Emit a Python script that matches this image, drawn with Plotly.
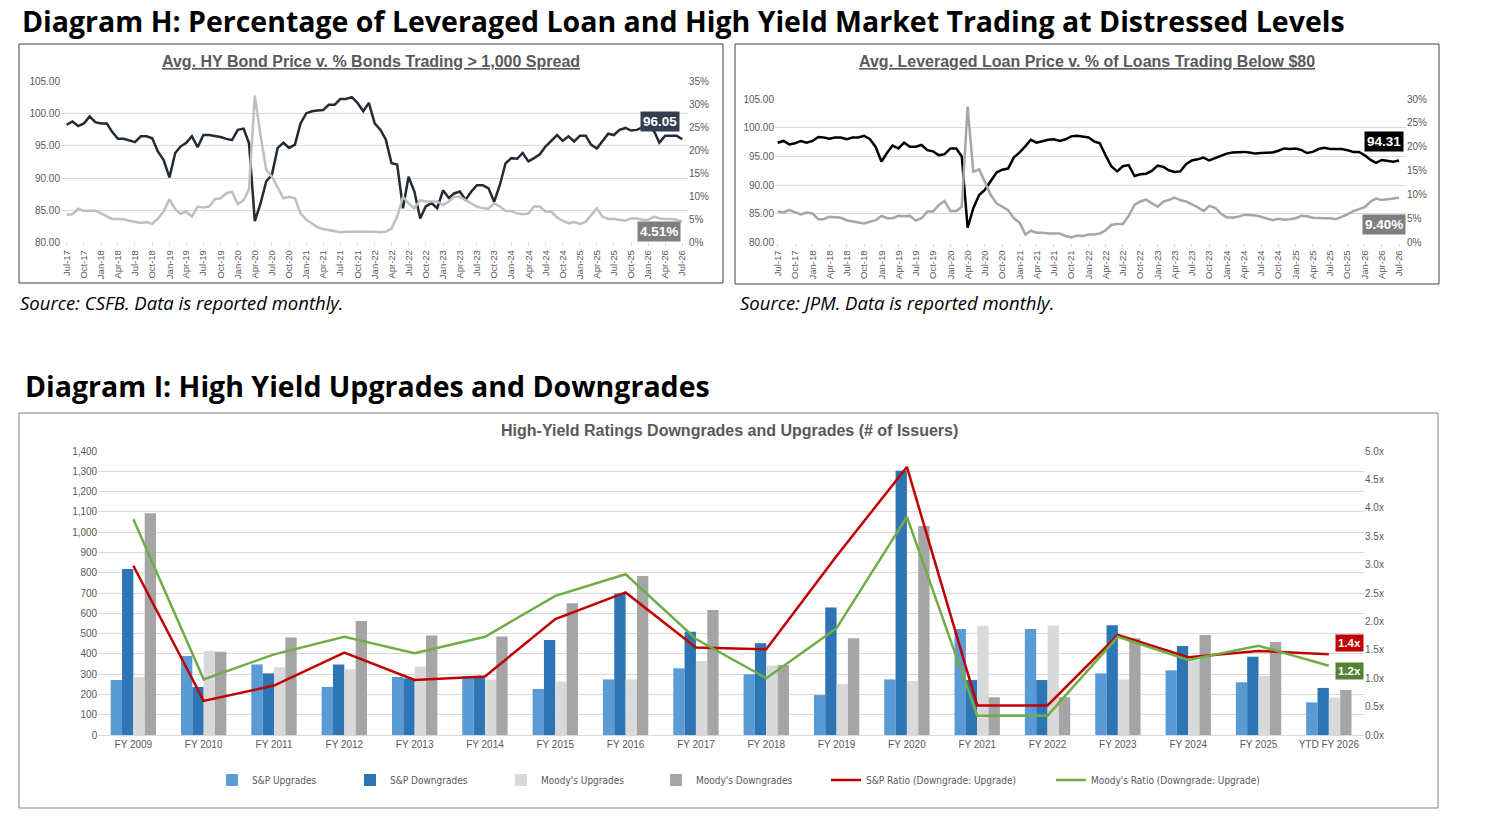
import pandas as pd
import plotly.graph_objects as go

W, H = 1489, 817


def fx(p):
    return p / W


def fy(p):
    return 1 - p / H


# ---------------- Data: top-left (HY bonds) ----------------
months = pd.date_range("2017-07-01", "2026-07-01", freq="MS")

hy_price = [
    98.3, 98.8, 98.1, 98.5, 99.6, 98.7, 98.5, 98.5, 97.2, 96.1, 96.1, 95.8, 95.6, 96.5, 96.5, 96.2,
    94.1, 92.8, 90.1, 93.9, 94.9, 95.5, 96.5, 94.8, 96.7, 96.7, 96.6, 96.4, 96.1, 95.9, 97.5, 97.7,
    95.4, 83.3, 86.0, 89.5, 90.5, 94.7, 95.5, 94.7, 95.2, 98.5, 100.1, 100.4, 100.5, 100.6, 101.4, 101.4,
    102.3, 102.3, 102.6, 101.7, 100.4, 101.7, 98.5, 97.5, 96.0, 92.3, 92.1, 85.3, 90.2, 87.9, 83.7, 85.6,
    86.1, 85.3, 88.1, 86.9, 87.6, 87.9, 86.6, 87.9, 88.9, 88.9, 88.4, 86.3, 89.0, 92.3, 93.1, 93.0,
    93.9, 92.6, 93.1, 93.7, 94.9, 95.8, 96.7, 95.8, 96.5, 95.7, 96.6, 96.6, 95.2, 94.6, 95.7, 96.9,
    96.7, 97.5, 97.8, 97.4, 97.5, 97.9, 97.8, 97.3, 95.5, 96.6, 96.6, 96.6, 96.05,
]
hy_distressed = [
    6.0, 6.1, 7.3, 6.8, 6.9, 6.9, 6.3, 5.6, 5.1, 5.1, 5.0, 4.7, 4.4, 4.2, 4.4, 4.0,
    5.2, 6.7, 9.4, 7.2, 6.2, 6.7, 5.6, 7.8, 7.6, 7.8, 9.4, 9.6, 10.7, 11.0, 8.3, 9.2,
    11.6, 32.0, 23.4, 15.8, 14.3, 11.8, 9.6, 9.9, 9.6, 6.3, 4.9, 4.1, 3.3, 2.9, 2.7, 2.5,
    2.2, 2.3, 2.3, 2.3, 2.3, 2.4, 2.3, 2.2, 2.3, 3.0, 5.6, 9.9, 8.5, 7.4, 9.2, 8.9,
    8.9, 8.9, 8.1, 8.9, 9.9, 9.9, 9.2, 8.5, 7.8, 7.4, 7.3, 8.5, 7.8, 6.8, 6.8, 6.3,
    6.1, 6.3, 7.8, 7.8, 6.7, 6.7, 5.4, 4.7, 4.1, 4.4, 4.0, 4.5, 6.0, 7.4, 5.6, 5.1,
    5.1, 4.9, 4.7, 5.2, 5.2, 4.9, 4.9, 5.6, 5.2, 5.1, 5.1, 4.9, 4.51,
]

# ---------------- Data: top-right (Leveraged loans) ----------------
loan_price = [
    97.4, 97.7, 97.1, 97.3, 97.7, 97.4, 97.7, 98.4, 98.3, 98.1, 98.3, 98.3, 98.0, 98.3, 98.3, 98.6,
    98.0, 96.7, 94.1, 95.7, 96.9, 96.4, 97.4, 96.7, 96.7, 97.0, 96.1, 95.9, 95.2, 95.4, 96.4, 96.4,
    95.0, 82.6, 86.0, 88.3, 89.2, 90.6, 92.2, 92.7, 92.9, 94.8, 95.7, 96.8, 97.9, 97.4, 97.7, 97.9,
    98.0, 97.7, 98.0, 98.5, 98.6, 98.4, 98.3, 97.6, 97.3, 95.2, 93.3, 92.4, 93.3, 93.5, 91.6, 91.9,
    92.0, 92.5, 93.4, 93.2, 92.6, 92.3, 92.4, 93.7, 94.3, 94.5, 94.8, 94.3, 94.7, 95.1, 95.5, 95.7,
    95.8, 95.8, 95.7, 95.5, 95.6, 95.6, 95.7, 96.0, 96.4, 96.3, 96.4, 96.1, 95.6, 95.8, 96.3, 96.5,
    96.3, 96.3, 96.3, 96.1, 95.8, 95.8, 95.2, 94.4, 93.9, 94.4, 94.2, 94.1, 94.31,
]
loan_below80 = [
    6.5, 6.3, 6.8, 6.3, 5.9, 6.3, 6.1, 4.9, 4.9, 5.4, 5.3, 5.2, 4.7, 4.4, 4.2, 4.0,
    4.4, 4.7, 5.6, 5.1, 5.1, 5.6, 5.5, 5.6, 4.6, 5.1, 6.5, 6.5, 7.9, 8.7, 6.6, 6.6,
    7.5, 28.4, 14.8, 15.3, 12.7, 10.0, 8.2, 7.5, 6.8, 5.1, 4.2, 1.7, 2.5, 2.1, 2.1, 1.9,
    1.9, 1.9, 1.4, 1.1, 1.5, 1.4, 1.7, 1.7, 1.9, 2.6, 3.7, 3.9, 3.9, 5.6, 7.9, 8.6,
    9.0, 8.2, 7.5, 8.6, 8.9, 9.4, 8.9, 8.6, 8.0, 7.4, 6.6, 7.7, 7.3, 6.1, 5.3, 5.2,
    5.4, 5.8, 5.8, 5.7, 5.4, 5.1, 4.7, 5.0, 4.8, 4.9, 5.1, 5.6, 5.5, 5.2, 5.1, 5.1,
    5.1, 4.9, 5.4, 5.9, 6.6, 7.0, 7.4, 8.6, 9.2, 8.9, 9.1, 9.3, 9.40,
]

# ---------------- Data: bottom (ratings) ----------------
fiscal_years = ["FY 2009", "FY 2010", "FY 2011", "FY 2012", "FY 2013", "FY 2014", "FY 2015",
                "FY 2016", "FY 2017", "FY 2018", "FY 2019", "FY 2020", "FY 2021", "FY 2022",
                "FY 2023", "FY 2024", "FY 2025", "YTD FY 2026"]
sp_upgrades = [271, 389, 348, 237, 286, 288, 227, 274, 329, 299, 197, 274, 522, 522, 304, 319, 260, 161]
sp_downgrades = [818, 237, 304, 348, 279, 288, 468, 698, 509, 452, 628, 1303, 271, 271, 541, 439, 386, 232]
moodys_upgrades = [286, 414, 334, 324, 337, 274, 263, 274, 365, 342, 251, 266, 539, 539, 274, 370, 291, 184]
moodys_downgrades = [1093, 411, 481, 562, 490, 485, 649, 784, 616, 345, 477, 1030, 186, 186, 477, 493, 458, 222]
sp_ratio = [2.98, 0.60, 0.87, 1.45, 0.97, 1.03, 2.04, 2.51, 1.54, 1.51, 3.15, 4.72, 0.52, 0.52, 1.76, 1.37, 1.48, 1.42]
moodys_ratio = [3.80, 0.98, 1.42, 1.73, 1.44, 1.73, 2.45, 2.83, 1.69, 1.00, 1.88, 3.84, 0.34, 0.34, 1.73, 1.32, 1.57, 1.22]

GRID = "#D9D9D9"
TICK = "#595959"
ARIAL = "Liberation Sans, Arial, sans-serif"
NARROW = "Liberation Sans Narrow, DejaVu Sans Condensed, Arial Narrow, sans-serif"

fig = go.Figure()

# top-left traces
fig.add_trace(go.Scatter(x=months, y=hy_price, mode="lines", line=dict(color="#222A35", width=2.5),
                         xaxis="x", yaxis="y", showlegend=False))
fig.add_trace(go.Scatter(x=months, y=hy_distressed, mode="lines", line=dict(color="#BFBFBF", width=2.5),
                         xaxis="x", yaxis="y2", showlegend=False))
# top-right traces
fig.add_trace(go.Scatter(x=months, y=loan_price, mode="lines", line=dict(color="#000000", width=2.5),
                         xaxis="x2", yaxis="y3", showlegend=False))
fig.add_trace(go.Scatter(x=months, y=loan_below80, mode="lines", line=dict(color="#A6A6A6", width=2.5),
                         xaxis="x2", yaxis="y4", showlegend=False))

# bottom bars
bar_specs = [
    ("S&P Upgrades", sp_upgrades, "#5B9BD5", "legend"),
    ("S&P Downgrades", sp_downgrades, "#2E75B6", "legend2"),
    ("Moody's Upgrades", moodys_upgrades, "#D9D9D9", "legend3"),
    ("Moody's Downgrades", moodys_downgrades, "#A5A5A5", "legend4"),
]
for name, vals, col, leg in bar_specs:
    fig.add_trace(go.Bar(x=fiscal_years, y=vals, name=name, marker=dict(color=col, line=dict(width=0)),
                         xaxis="x3", yaxis="y5", legend=leg))
fig.add_trace(go.Scatter(x=fiscal_years, y=sp_ratio, mode="lines", name="S&P Ratio (Downgrade: Upgrade)",
                         line=dict(color="#C00000", width=2.5), xaxis="x3", yaxis="y6", legend="legend5"))
fig.add_trace(go.Scatter(x=fiscal_years, y=moodys_ratio, mode="lines", name="Moody's Ratio (Downgrade: Upgrade)",
                         line=dict(color="#70AD47", width=2.5), xaxis="x3", yaxis="y6", legend="legend6"))

tickfont = dict(family=ARIAL, size=10, color=TICK)

date_axis_common = dict(type="date", tickformat="%b-%y", dtick="M3", tick0="2017-07-01",
                        tickangle=-90, showgrid=False, tickfont=dict(family=ARIAL, size=9.5, color=TICK),
                        ticks="outside", ticklen=3, tickcolor=GRID, showline=False, zeroline=False,
                        automargin=False)

legend_common = dict(orientation="h", yanchor="middle", y=fy(780), bgcolor="rgba(0,0,0,0)",
                     font=dict(family=NARROW, size=10, color=TICK), itemwidth=30)

legend_text_x = [252, 390, 541, 696, 866, 1091]

fig.update_layout(
    autosize=True, margin=dict(l=0, r=0, t=0, b=0, pad=0, autoexpand=False),
    paper_bgcolor="white", plot_bgcolor="white",
    barmode="group", bargap=0.355, bargroupgap=0,
    xaxis=dict(domain=[fx(61), fx(688)], range=["2017-06-01", "2026-08-01"], anchor="y", **date_axis_common),
    yaxis=dict(domain=[fy(242.3), fy(81.7)], range=[80, 105], dtick=5, tickformat=".2f", automargin=False,
               gridcolor=GRID, gridwidth=1, zeroline=False, tickfont=tickfont, anchor="x"),
    yaxis2=dict(domain=[fy(242.3), fy(81.7)], range=[0, 35], dtick=5, ticksuffix="%", side="right",
                overlaying="y", anchor="x", showgrid=False, zeroline=False, tickfont=tickfont, automargin=False),
    xaxis2=dict(domain=[fx(775), fx(1406)], range=["2017-06-17", "2026-08-07"], anchor="y3", **date_axis_common),
    yaxis3=dict(domain=[fy(242.7), fy(99)], range=[80, 105], dtick=5, tickformat=".2f", automargin=False,
                gridcolor=GRID, gridwidth=1, zeroline=False, tickfont=tickfont, anchor="x2"),
    yaxis4=dict(domain=[fy(242.7), fy(99)], range=[0, 30], dtick=5, ticksuffix="%", side="right",
                overlaying="y3", anchor="x2", showgrid=False, zeroline=False, tickfont=tickfont, automargin=False),
    xaxis3=dict(domain=[fx(98.2), fx(1364)], type="category", anchor="y5", showgrid=False, automargin=False,
                showline=True, linecolor=GRID, linewidth=1, tickfont=tickfont, ticks=""),
    yaxis5=dict(domain=[fy(735), fy(451)], range=[0, 1400], dtick=100, tickformat=",d", automargin=False,
                gridcolor=GRID, gridwidth=1, zeroline=False, tickfont=tickfont, anchor="x3"),
    yaxis6=dict(domain=[fy(735), fy(451)], range=[0, 5], dtick=0.5, tickformat=".1f", ticksuffix="x",
                side="right", overlaying="y5", anchor="x3", showgrid=False, zeroline=False, tickfont=tickfont,
                automargin=False),
)
for i, tx in enumerate(legend_text_x):
    key = "legend" if i == 0 else f"legend{i + 1}"
    fig.layout[key] = dict(x=fx(tx - 40), xanchor="left", **legend_common)

# frames
for x0, y0, x1, y1, col in [(19, 44, 723, 283, "#404040"), (735, 44, 1439, 284, "#404040"),
                            (19, 413, 1438, 808, "#808080")]:
    fig.add_shape(type="rect", xref="paper", yref="paper", x0=fx(x0), x1=fx(x1), y0=fy(y1), y1=fy(y0),
                  line=dict(color=col, width=1), fillcolor="rgba(0,0,0,0)", layer="above")

TITLE_FONT = "Open Sans, DejaVu Sans, sans-serif"
ann = []
ann.append(dict(text="<b>Diagram H: Percentage of Leveraged Loan and High Yield Market Trading at Distressed Levels</b>",
                x=fx(20), y=1.0, xanchor="left", yanchor="top",
                font=dict(family=TITLE_FONT, size=28.5, color="#000000")))
ann.append(dict(text="<b>Diagram I: High Yield Upgrades and Downgrades</b>",
                x=fx(23), y=fy(386), xanchor="left", yanchor="middle",
                font=dict(family=TITLE_FONT, size=28.5, color="#000000")))
ann.append(dict(text="<i>Source: CSFB. Data is reported monthly.</i>", x=fx(18), y=fy(302),
                xanchor="left", yanchor="middle", font=dict(family=TITLE_FONT, size=18.5, color="#000000")))
ann.append(dict(text="<i>Source: JPM. Data is reported monthly.</i>", x=fx(738), y=fy(302),
                xanchor="left", yanchor="middle", font=dict(family=TITLE_FONT, size=18.5, color="#000000")))
ann.append(dict(text="<u><b>Avg. HY Bond Price v. % Bonds Trading &gt; 1,000 Spread</b></u>", x=fx(371), y=fy(61),
                xanchor="center", yanchor="middle", font=dict(family=ARIAL, size=16, color="#595959")))
ann.append(dict(text="<u><b>Avg. Leveraged Loan Price v. % of Loans Trading Below $80</b></u>", x=fx(1087), y=fy(61),
                xanchor="center", yanchor="middle", font=dict(family=ARIAL, size=16, color="#595959")))
ann.append(dict(text="<b>High-Yield Ratings Downgrades and Upgrades (# of Issuers)</b>", x=fx(729), y=fy(430),
                xanchor="center", yanchor="middle", font=dict(family=ARIAL, size=16, color="#595959")))

# end-value labels
def value_box(text, cx, cy, bg, size=13.5):
    return dict(text=f"<b>{text}</b>", x=fx(cx), y=fy(cy), xanchor="center", yanchor="middle",
                bgcolor=bg, borderpad=2, font=dict(family=ARIAL, size=size, color="white"))

ann.append(value_box(f"{hy_price[-1]:.2f}", 660, 121, "#333F50"))
ann.append(value_box(f"{hy_distressed[-1]:.2f}%", 659, 231, "#7F7F7F"))
ann.append(value_box(f"{loan_price[-1]:.2f}", 1384, 142, "#000000"))
ann.append(value_box(f"{loan_below80[-1]:.2f}%", 1384, 224, "#7F7F7F"))
ann.append(value_box(f"{sp_ratio[-1]:.1f}x", 1349, 643, "#C00000", size=11.5))
ann.append(value_box(f"{moodys_ratio[-1]:.1f}x", 1349, 671, "#548235", size=11.5))

for a in ann:
    a.update(xref="paper", yref="paper", showarrow=False)
fig.update_layout(annotations=ann)

fig.write_html(
    "out.html",
    default_width="100vw",
    default_height="100vh",
    config={"displayModeBar": False, "responsive": True},
    post_script="document.documentElement.style.margin='0';document.body.style.margin='0';"
                "document.body.style.overflow='hidden';document.documentElement.style.overflow='hidden';",
)
